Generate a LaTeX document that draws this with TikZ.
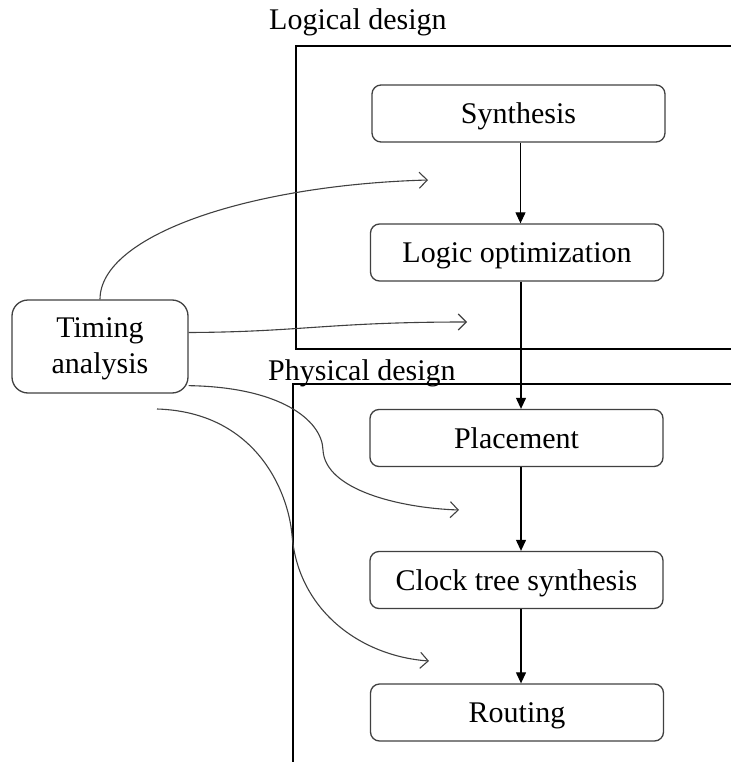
\documentclass[tikz,border=0pt]{standalone}
\usepackage{fontspec}
\setmainfont{Liberation Serif}
\usetikzlibrary{arrows.meta,calc}
\begin{document}
\begin{tikzpicture}[x=1pt,y=-1pt,
  stage/.style={draw=black!75,line width=1.3pt,rounded corners=9pt,minimum width=293pt,minimum height=57pt,inner sep=0pt,text height=22pt,text depth=2pt,font=\fontsize{30}{36}\selectfont},
  frame/.style={line width=2.6pt,black},
  flow/.style={line width=1.1pt,-{Triangle[length=11pt,width=10pt]}},
  feed/.style={line width=1.1pt,draw=black!75,-{Straight Barb[length=8pt,width=16pt,line width=1.1pt]}},
  lbl/.style={font=\fontsize{30}{36}\selectfont,inner sep=0pt,anchor=base west}]
\useasboundingbox (0,0) rectangle (730,762);
% frames
\draw[frame] (731,46) -- (296,46) -- (296,349) -- (731,349);
\draw[frame] (731,384) -- (293,384) -- (293,763);
\node[lbl] (lg) at (269,30) {Logical design};
\node[lbl] (pd) at (268,380) {Physical design};
% stages
\node[stage] (syn) at (518.5,113.5) {Synthesis};
\node[stage] (lo) at (517,252.5) {Logic optimization};
\node[stage] (pl) at (516.5,438) {Placement};
\node[stage] (cts) at (516.5,580) {Clock tree synthesis};
\node[stage] (rt) at (517,712.5) {Routing};
\node[stage,minimum width=176pt,minimum height=93pt,rounded corners=16pt,align=center,text height=55pt,text depth=2pt] (ta) at (100,346.5) {Timing\\analysis};
% flow arrows
\draw[flow] ($(syn.south)+(2,0)$) -- ($(lo.north)+(3.5,0)$);
\draw[flow] ($(lo.south)+(4,0)$) -- ($(pl.north)+(4.5,0)$);
\draw[flow] ($(pl.south)+(4.5,0)$) -- ($(cts.north)+(4.5,0)$);
\draw[flow] ($(cts.south)+(4.5,0)$) -- ($(rt.north)+(4,0)$);
% feedback targets
\coordinate (t1) at (428,180);
\coordinate (t2) at (467,322);
\coordinate (t3) at (459,510);
\coordinate (t4) at (429,661);
\coordinate (s4) at (157,409);
\draw[feed] (ta.north) .. controls (100,235) and (250,185) .. (t1);
\draw[feed] ($(ta.east)+(0,-14)$) .. controls (300,332) and (330,322) .. (t2);
\draw[feed] ($(ta.south east)+(0,-8)$) .. controls (280,387) and (322,420) .. (323,450) .. controls (325,490) and (400,508) .. (t3);
\draw[feed] (s4) .. controls (255,412) and (288,490) .. (292,535) .. controls (298,610) and (360,656) .. (t4);
\end{tikzpicture}
\end{document}
